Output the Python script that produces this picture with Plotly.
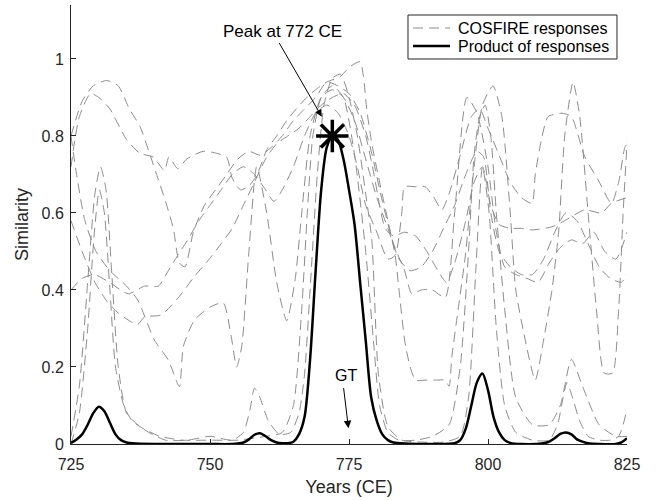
import plotly.graph_objects as go

# ---------------- data ----------------
x_ticks = [725, 750, 775, 800, 825]
y_ticks = [0, 0.2, 0.4, 0.6, 0.8, 1]
y_tick_labels = ["0", "0.2", "0.4", "0.6", "0.8", "1"]
legend_labels = ["COSFIRE responses", "Product of responses"]

cos_a_x = [725, 727, 729, 731.4, 733.5, 735.5, 737.4, 739, 740.4, 742, 743.4, 744.5, 745.5, 747, 749, 751, 753, 755, 757, 759, 761, 763, 765, 767, 769, 771, 773, 775, 777, 779, 781, 783, 785, 786.3, 788, 790, 792.3, 794, 796.2, 798, 800, 801.5, 803, 805, 807, 809, 811, 813, 815, 817, 819, 821, 823, 825]
cos_a_y = [0.80, 0.89, 0.93, 0.944, 0.93, 0.87, 0.825, 0.76, 0.70, 0.63, 0.56, 0.47, 0.46, 0.55, 0.62, 0.66, 0.70, 0.74, 0.76, 0.75, 0.77, 0.80, 0.84, 0.87, 0.90, 0.94, 0.93, 0.91, 0.86, 0.76, 0.63, 0.52, 0.45, 0.39, 0.40, 0.40, 0.38, 0.60, 0.90, 0.86, 0.72, 0.55, 0.46, 0.44, 0.43, 0.42, 0.47, 0.51, 0.53, 0.52, 0.55, 0.50, 0.48, 0.55]

cos_b_x = [725, 726.5, 728.5, 730, 732, 735, 737.4, 739.8, 741.8, 742.6, 744.2, 745.8, 748.8, 751.2, 753, 754, 755.5, 757, 758.5, 760.2, 762, 763.8, 765.5, 767.4, 769, 771, 773.4, 775.2, 777, 777.6, 778.2, 779.1, 780.5, 782, 783.3, 784, 785, 786, 787, 789, 791, 792.3, 793, 793.5, 794.7, 795.9, 797.5, 799, 800.9, 802.5, 804, 805, 806.7, 808.5, 810, 811.5, 812.7, 813.8, 815.3, 816.5, 818, 819.5, 820.9, 822.4, 823.5, 824.3, 825]
cos_b_y = [0.72, 0.85, 0.91, 0.90, 0.87, 0.79, 0.755, 0.745, 0.71, 0.745, 0.715, 0.74, 0.76, 0.755, 0.745, 0.69, 0.66, 0.67, 0.70, 0.764, 0.80, 0.84, 0.87, 0.90, 0.92, 0.94, 0.954, 0.98, 0.993, 0.954, 0.868, 0.78, 0.68, 0.58, 0.49, 0.40, 0.27, 0.20, 0.166, 0.166, 0.166, 0.166, 0.15, 0.227, 0.357, 0.486, 0.72, 0.88, 0.93, 0.85, 0.60, 0.40, 0.27, 0.166, 0.27, 0.40, 0.55, 0.80, 0.94, 0.85, 0.60, 0.35, 0.184, 0.184, 0.35, 0.60, 0.78]

cos_c_x = [725, 726.5, 728, 729.3, 730.3, 731.3, 732.3, 733.5, 735, 737, 739, 742, 746, 750, 754, 756, 757.2, 758, 759, 760.5, 762.5, 764.5, 766, 767, 768, 769.3, 770.5, 772, 773.5, 775, 776.5, 778, 779.1, 780.3, 782, 784.5, 788, 792, 795, 796.5, 797.8, 799, 800.2, 801.5, 803, 805, 808, 811, 812.5, 813.5, 814.2, 815, 816.5, 818, 820, 822, 823.5, 824.3, 825]
cos_c_y = [0.02, 0.15, 0.42, 0.65, 0.72, 0.66, 0.45, 0.20, 0.08, 0.05, 0.03, 0.01, 0.01, 0.02, 0.01, 0.03, 0.09, 0.145, 0.12, 0.06, 0.025, 0.03, 0.08, 0.18, 0.40, 0.70, 0.88, 0.95, 0.96, 0.90, 0.80, 0.65, 0.53, 0.18, 0.045, 0.01, 0.005, 0.005, 0.02, 0.12, 0.45, 0.72, 0.60, 0.30, 0.10, 0.03, 0.01, 0.01, 0.05, 0.12, 0.16, 0.13, 0.06, 0.02, 0.01, 0.01, 0.02, 0.05, 0.09]

cos_d_x = [725, 726.5, 728, 729.2, 730.1, 731, 732, 733, 734.5, 736, 738, 741, 745, 750, 755, 760, 763, 765, 766.5, 767.5, 768.5, 770, 772, 774, 776, 778, 779.5, 780.5, 782, 784, 787, 790, 793, 795, 796.5, 797.5, 798.5, 799.5, 800.5, 801.5, 803, 805, 808, 811, 813, 815, 817, 820, 823, 825]
cos_d_y = [0.0, 0.08, 0.30, 0.55, 0.66, 0.60, 0.40, 0.20, 0.10, 0.06, 0.04, 0.02, 0.01, 0.01, 0.01, 0.02, 0.03, 0.10, 0.35, 0.60, 0.80, 0.90, 0.93, 0.90, 0.75, 0.50, 0.25, 0.10, 0.03, 0.01, 0.01, 0.02, 0.05, 0.20, 0.50, 0.75, 0.85, 0.88, 0.80, 0.60, 0.35, 0.12, 0.05, 0.05, 0.10, 0.22, 0.15, 0.05, 0.02, 0.02]

cos_e_x = [725, 727, 729.2, 732.2, 735.3, 738.2, 740.7, 742.5, 744.2, 746, 748, 750, 752, 754, 756, 758, 760, 761.5, 763, 765, 767, 769, 771, 773, 775, 776.5, 778, 780, 782, 783.3, 784.5, 785, 787, 788.7, 790.2, 791.7, 793, 795, 797, 798.5, 800, 802, 804, 806, 807.9, 808.5, 809.6, 810.8, 813.3, 815, 817.4, 819.8, 822.2, 823.5, 824.6, 825]
cos_e_y = [0.40, 0.43, 0.44, 0.417, 0.39, 0.41, 0.41, 0.45, 0.49, 0.53, 0.58, 0.62, 0.66, 0.70, 0.72, 0.70, 0.66, 0.63, 0.66, 0.72, 0.80, 0.86, 0.88, 0.86, 0.80, 0.72, 0.62, 0.55, 0.48, 0.49, 0.60, 0.668, 0.668, 0.668, 0.642, 0.608, 0.65, 0.75, 0.85, 0.87, 0.82, 0.75, 0.68, 0.64, 0.625, 0.70, 0.79, 0.85, 0.859, 0.85, 0.746, 0.686, 0.625, 0.68, 0.77, 0.78]

cos_f_x = [725, 727, 729.3, 731.5, 733.5, 735.5, 737, 738.2, 741.2, 744.3, 747.2, 750.2, 752, 754, 756, 758, 760, 762, 764, 766, 768, 770, 772, 774, 776, 778, 779.5, 780.5, 781.5, 783, 785, 787, 789, 791, 792.5, 794, 796, 797.5, 799, 800.5, 802, 804, 806, 807.9, 811.5, 813.8, 817.4, 820.4, 822.2, 825]
cos_f_y = [0.58, 0.50, 0.42, 0.37, 0.34, 0.32, 0.31, 0.33, 0.335, 0.38, 0.435, 0.486, 0.52, 0.56, 0.62, 0.68, 0.74, 0.78, 0.80, 0.82, 0.85, 0.88, 0.90, 0.91, 0.88, 0.80, 0.70, 0.62, 0.56, 0.54, 0.55, 0.54, 0.50, 0.45, 0.42, 0.47, 0.58, 0.68, 0.72, 0.62, 0.57, 0.56, 0.56, 0.556, 0.564, 0.58, 0.608, 0.60, 0.625, 0.64]

cos_g_x = [725, 726, 727.5, 729.5, 732, 735, 737, 740, 742.5, 744.5, 745.2, 747.2, 750.2, 752.4, 753.8, 754.8, 755.7, 757, 758.4, 760.2, 762, 763.8, 765.3, 766.5, 768, 770, 772, 774, 776, 778, 780, 782, 784, 786, 788, 790, 792, 794, 796, 798, 799.2, 800.5, 802, 804, 806, 808, 810, 812, 814, 816, 818, 820, 822, 824, 825]
cos_g_y = [0.80, 0.70, 0.58, 0.50, 0.45, 0.41, 0.374, 0.27, 0.218, 0.149, 0.253, 0.322, 0.357, 0.366, 0.28, 0.20, 0.253, 0.50, 0.72, 0.60, 0.42, 0.32, 0.426, 0.60, 0.80, 0.90, 0.92, 0.90, 0.84, 0.74, 0.64, 0.56, 0.48, 0.45, 0.46, 0.50, 0.56, 0.62, 0.70, 0.76, 0.746, 0.60, 0.50, 0.46, 0.44, 0.44, 0.48, 0.55, 0.60, 0.58, 0.52, 0.46, 0.43, 0.42, 0.44]

product_x = [725, 726, 727, 728, 729, 730, 731, 732, 733, 734, 735, 736, 740, 745, 750, 754, 756, 757, 758, 759, 760, 761, 762, 763, 764, 765, 766, 767, 768, 769, 770, 771, 772, 773, 774, 775, 776, 777, 778, 779, 780, 781, 782, 783, 785, 790, 794, 795, 796, 797, 798, 799, 800, 801, 802, 803, 804, 806, 810, 811, 812, 813, 814, 815, 816, 817, 818, 820, 823, 824, 825]
product_y = [0.003, 0.012, 0.025, 0.05, 0.08, 0.097, 0.085, 0.055, 0.025, 0.01, 0.004, 0.002, 0.0, 0.0, 0.0, 0.0, 0.004, 0.012, 0.024, 0.028, 0.02, 0.01, 0.004, 0.002, 0.002, 0.006, 0.025, 0.07, 0.22, 0.45, 0.66, 0.77, 0.80, 0.79, 0.74, 0.66, 0.57, 0.42, 0.27, 0.12, 0.06, 0.025, 0.01, 0.004, 0.001, 0.0, 0.002, 0.01, 0.04, 0.10, 0.16, 0.183, 0.14, 0.07, 0.03, 0.01, 0.003, 0.0, 0.002, 0.006, 0.015, 0.026, 0.03, 0.025, 0.012, 0.006, 0.002, 0.0, 0.0, 0.004, 0.015]

peak_year = [772]
peak_value = [0.80]

cosfire_curves = [
    (cos_a_x, cos_a_y), (cos_b_x, cos_b_y), (cos_c_x, cos_c_y), (cos_d_x, cos_d_y),
    (cos_e_x, cos_e_y), (cos_f_x, cos_f_y), (cos_g_x, cos_g_y),
]

# ---------------- figure ----------------
FONT = "Liberation Sans, Arial, Helvetica, sans-serif"
AX_COLOR = "#262626"
GRAY = "#8c8c8c"
DASH = "10px,6px"

fig = go.Figure()
for i, (xs, ys) in enumerate(cosfire_curves):
    fig.add_trace(go.Scatter(
        x=xs, y=ys, mode="lines", name=legend_labels[0], showlegend=False,
        line=dict(color=GRAY, width=1, dash=DASH, shape="spline", smoothing=0.6),
        hoverinfo="skip",
    ))

fig.add_trace(go.Scatter(
    x=product_x, y=product_y, mode="lines", name=legend_labels[1], showlegend=False,
    line=dict(color="black", width=2.5, shape="spline", smoothing=0.8),
))

fig.add_trace(go.Scatter(
    x=peak_year, y=peak_value, mode="markers", showlegend=False,
    marker=dict(symbol="asterisk", size=27, color="black",
                line=dict(color="black", width=3.5)),
))

# annotations
fig.add_annotation(x=763.0, y=1.071, text="Peak at 772 CE", showarrow=False,
                   font=dict(family=FONT, size=17, color="black"), xref="x", yref="y")
fig.add_annotation(x=770.1, y=0.85, ax=762.3, ay=1.045, axref="x", ayref="y",
                   xref="x", yref="y", text="", showarrow=True,
                   arrowhead=2, arrowsize=1.4, arrowwidth=1, arrowcolor="black")
fig.add_annotation(x=774.5, y=0.178, text="GT", showarrow=False,
                   font=dict(family=FONT, size=16, color="black"), xref="x", yref="y")
fig.add_annotation(x=774.9, y=0.041, ax=774.0, ay=0.149, axref="x", ayref="y",
                   xref="x", yref="y", text="", showarrow=True,
                   arrowhead=2, arrowsize=1.5, arrowwidth=1, arrowcolor="black")

# legend box drawn by hand (MATLAB-like compact legend)
leg_x0, leg_x1, leg_y0, leg_y1 = 0.6061, 0.982, 0.877, 0.9772
row_y = [0.9476, 0.9066]
sample_x0, sample_x1, text_x = 0.6151, 0.6817, 0.6925
fig.add_shape(type="rect", xref="paper", yref="paper", x0=leg_x0, x1=leg_x1, y0=leg_y0, y1=leg_y1,
              line=dict(color=AX_COLOR, width=1), fillcolor="white", layer="above")
fig.add_shape(type="line", xref="paper", yref="paper", x0=sample_x0, x1=sample_x1, y0=row_y[0], y1=row_y[0],
              line=dict(color=GRAY, width=1, dash=DASH), layer="above")
fig.add_shape(type="line", xref="paper", yref="paper", x0=sample_x0, x1=sample_x1, y0=row_y[1], y1=row_y[1],
              line=dict(color="black", width=2.5), layer="above")
for lbl, ry in zip(legend_labels, row_y):
    fig.add_annotation(xref="paper", yref="paper", x=text_x, y=ry, text=lbl, showarrow=False,
                       xanchor="left", yanchor="middle",
                       font=dict(family=FONT, size=16, color="black"))

fig.update_layout(
    width=656, height=500,
    margin=dict(l=71, r=29, t=5, b=56),
    paper_bgcolor="white", plot_bgcolor="white",
    font=dict(family=FONT, size=16, color=AX_COLOR),
    showlegend=False,
    xaxis=dict(
        range=[725, 825], tickvals=x_ticks, ticktext=[str(v) for v in x_ticks],
        ticks="inside", ticklen=5, tickcolor=AX_COLOR, showline=True, linecolor=AX_COLOR,
        linewidth=1, showgrid=False, zeroline=False, mirror=False, ticklabelstandoff=6,
        title=dict(text="Years (CE)", font=dict(family=FONT, size=18, color=AX_COLOR), standoff=8),
        tickfont=dict(family=FONT, size=16, color=AX_COLOR),
    ),
    yaxis=dict(
        range=[0, 1.14], tickvals=y_ticks, ticktext=y_tick_labels,
        ticks="inside", ticklen=5, tickcolor=AX_COLOR, showline=True, linecolor=AX_COLOR,
        linewidth=1, showgrid=False, zeroline=False, mirror=False, ticklabelstandoff=3,
        title=dict(text="Similarity", font=dict(family=FONT, size=18, color=AX_COLOR), standoff=8),
        tickfont=dict(family=FONT, size=16, color=AX_COLOR),
    ),
)

fig.write_html("out.html")
